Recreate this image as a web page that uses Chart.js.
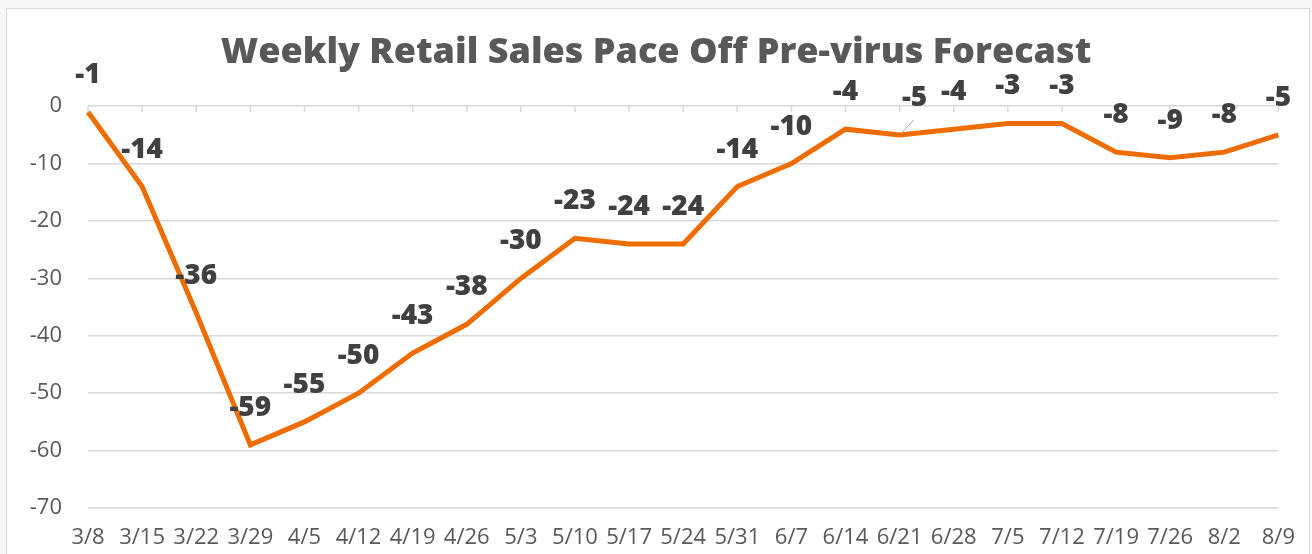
<!DOCTYPE html>
<html>
<head>
<meta charset="utf-8">
<script src="https://cdn.jsdelivr.net/npm/chart.js@4.4.1/dist/chart.umd.min.js"></script>
<style>
  html, body { margin: 0; padding: 0; background: #f7f7f7; }
  #frame {
    position: absolute; left: 6px; top: 8px; width: 1304px; height: 560px;
    border: 1px solid #d9d9d9; background: #fff; box-sizing: border-box;
  }
  #wrap { position: absolute; left: 0; top: 0; width: 1312px; height: 554px; }
</style>
</head>
<body>
<div id="frame"></div>
<div id="wrap"><canvas id="salesChart" width="1312" height="554"></canvas></div>
<script>
// week labels (2020)
const weeks = ['3/8', '3/15', '3/22', '3/29', '4/5', '4/12', '4/19', '4/26', '5/3', '5/10',
    '5/17', '5/24', '5/31', '6/7', '6/14', '6/21', '6/28', '7/5', '7/12', '7/19',
    '7/26', '8/2', '8/9'];

// pace vs pre-virus forecast
const pace = [-1, -14, -36, -59, -55, -50, -43, -38, -30, -23, -24, -24, -14, -10, -4, -5,
    -4, -3, -3, -8, -9, -8, -5];

const yTicks = [0, -10, -20, -30, -40, -50, -60, -70];

const FONT = "'Open Sans', Inter, sans-serif";

// small tick marks hanging off the zero line + value labels above the points
const extras = {
    id: 'extras',
    afterDatasetsDraw(chart) {
        const { ctx } = chart;
        const x = chart.scales.x, y = chart.scales.y;
        const y0 = y.getPixelForValue(0);
        ctx.save();
        ctx.strokeStyle = '#d9d9d9';
        ctx.lineWidth = 1.5;
        weeks.forEach((w, i) => {
            const px = x.getPixelForValue(i);
            ctx.beginPath();
            ctx.moveTo(px, y0);
            ctx.lineTo(px, y0 + 6);
            ctx.stroke();
        });
        ctx.restore();
    },
    afterDraw(chart) {
        const { ctx } = chart;
        const meta = chart.getDatasetMeta(0);
        ctx.save();
        ctx.font = "800 28px " + FONT;
        ctx.fillStyle = '#404040';
        ctx.textAlign = 'center';
        ctx.textBaseline = 'middle';
        meta.data.forEach((pt, i) => {
            let lx = pt.x, ly = pt.y - 37;
            if (i === 15) {
                // label nudged off the line with a leader
                lx = pt.x + 15;
                ctx.save();
                ctx.strokeStyle = '#a6a6a6';
                ctx.lineWidth = 1;
                ctx.beginPath();
                ctx.moveTo(pt.x + 2, pt.y - 2);
                ctx.lineTo(pt.x + 14, pt.y - 15);
                ctx.stroke();
                ctx.restore();
            }
            ctx.fillText(String(pace[i]), lx, ly);
        });
        ctx.restore();
    }
};

new Chart(document.getElementById('salesChart'), {
    type: 'line',
    data: {
        labels: weeks,
        datasets: [{
            data: pace,
            yAxisID: 'y',
            borderColor: '#EF6C00',
            borderWidth: 5,
            pointRadius: 0,
            tension: 0,
            fill: false
        }]
    },
    options: {
        responsive: false,
        animation: false,
        layout: { padding: 0 },
        plugins: {
            legend: { display: false },
            tooltip: { enabled: false },
            title: {
                display: true,
                text: 'Weekly Retail Sales Pace Off Pre-virus Forecast',
                color: '#595959',
                font: { family: FONT, size: 36, weight: '800' },
                padding: { top: 31, bottom: 32 }
            }
        },
        scales: {
            x: {
                offset: false,
                afterFit(scale) { scale.height = 46; },
                grid: { display: false, drawTicks: false },
                border: { display: false },
                ticks: {
                    autoSkip: false,
                    maxRotation: 0,
                    padding: 17,
                    color: '#595959',
                    font: { family: FONT, size: 22 }
                }
            },
            y: {
                min: -70,
                max: 0,
                afterFit(scale) { scale.width = 88; },
                afterBuildTicks(scale) { scale.ticks = yTicks.map(v => ({ value: v })); },
                grid: { color: '#d9d9d9', lineWidth: 1.5, drawTicks: false },
                border: { display: false },
                ticks: {
                    padding: 26,
                    color: '#595959',
                    font: { family: FONT, size: 22 }
                }
            },
            // empty spacer on the right so the title stays centred on the page
            spacer: {
                type: 'linear',
                position: 'right',
                afterFit(scale) { scale.width = 33; },
                grid: { display: false, drawTicks: false },
                border: { display: false },
                ticks: { display: false }
            }
        }
    },
    plugins: [extras]
});
</script>
</body>
</html>
